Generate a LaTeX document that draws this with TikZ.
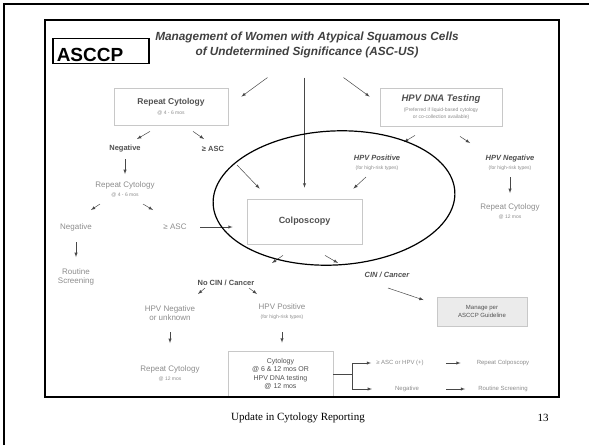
\documentclass[tikz,border=0pt]{standalone}
\usepackage{fontspec}
\setmainfont{Liberation Serif}
\setsansfont{Liberation Sans}

\definecolor{inkdark}{HTML}{505050}
\definecolor{inklight}{HTML}{8C8C8C}
\definecolor{boxline}{HTML}{C8C8C8}
\definecolor{arrowink}{HTML}{484848}
\definecolor{boxfill}{HTML}{EBEBEB}

\newcommand{\finetext}[1]{{\fontsize{5}{6}\selectfont\mdseries\upshape\color{inklight}#1}}

\begin{document}
\begin{tikzpicture}[x=1pt, y=-1pt,
			every node/.style={inner sep=1pt, align=center, font=\sffamily},
			lblbold/.style={font=\sffamily\bfseries\fontsize{7.5}{9}\selectfont, text=inkdark},
			lblital/.style={font=\sffamily\bfseries\itshape\fontsize{7.5}{9}\selectfont, text=inkdark},
			lblplain/.style={font=\sffamily\fontsize{8}{9}\selectfont, text=inklight},
			lblsmall/.style={font=\sffamily\fontsize{6}{7}\selectfont, text=inklight},
			flowbox/.style={draw=boxline, line width=0.8pt, inner sep=0pt},
			arr/.style={-latex, draw=arrowink, line width=0.5pt}]
\useasboundingbox (0,0) rectangle (589,445);
\draw[line width=2pt] (4,445) -- (4,4) -- (589,4);

\node (title) [font=\sffamily\bfseries\itshape\fontsize{11.8}{15}\selectfont, text=inkdark!80!black] at (307,44.5)
	{Management of Women with Atypical Squamous Cells\\of Undetermined Significance (ASC-US)};

\node (rep1) [flowbox, minimum width=114pt, minimum height=37pt,
	font=\sffamily\bfseries\fontsize{8.5}{10}\selectfont, text=inkdark] at (171,106.5)
	{Repeat Cytology\\\finetext{@ 4 - 6 mos}};
\node (hpv) [flowbox, minimum width=122pt, minimum height=38pt,
	font=\sffamily\bfseries\itshape\fontsize{9.5}{10}\selectfont, text=inkdark] at (441,107)
	{HPV DNA Testing\\\finetext{(Preferred if liquid-based cytology}\\[-3pt]\finetext{or co-collection available)}};

\node (neg1) [lblbold] at (125,149) {Negative};
\node (asc1) [lblbold] at (213,149) {≥ ASC};
\node (rep2) [lblplain] at (125,189) {Repeat Cytology\\\finetext{@ 4 - 6 mos}};
\node (neg2) [lblplain] at (76,227) {Negative};
\node (asc2) [lblplain] at (175,227) {≥ ASC};
\node (rout1) [lblplain] at (76,277) {Routine\\Screening};

\node (colpo) [flowbox, minimum width=115pt, minimum height=45pt,
	font=\sffamily\bfseries\fontsize{9}{11}\selectfont, text=inkdark] at (304.5,221.5) {Colposcopy};

\node (hpvpos) [lblital] at (377,163) {HPV Positive\\\finetext{(for high-risk types)}};
\node (hpvneg) [lblital] at (510,163) {HPV Negative\\\finetext{(for high-risk types)}};
\node (rep3) [lblplain] at (510,211) {Repeat Cytology\\\finetext{@ 12 mos}};

\node (nocin) [lblbold] at (226,283) {No CIN / Cancer};
\node (cin) [lblital] at (387,275) {CIN / Cancer};
\node (manage) [flowbox, fill=boxfill, minimum width=90pt, minimum height=29pt,
	font=\sffamily\fontsize{6}{8}\selectfont, text=inkdark] at (482,311.5) {Manage per\\ASCCP Guideline};

\node (hneg) [lblplain] at (170,313) {HPV Negative\\or unknown};
\node (hpos) [lblplain] at (282,312) {HPV Positive\\\finetext{(for high-risk types)}};
\node (rep4) [lblplain] at (170,373) {Repeat Cytology\\\finetext{@ 12 mos}};
\node (cyto) [flowbox, minimum width=105pt, minimum height=46pt,
	font=\sffamily\fontsize{7}{8.5}\selectfont, text=inkdark] at (280.5,374)
	{Cytology\\@ 6 \& 12 mos OR\\HPV DNA testing\\@ 12 mos};

\node (ascor) [lblsmall] at (400,363) {≥ ASC or HPV (+)};
\node (rcol) [lblsmall] at (503,363) {Repeat Colposcopy};
\node (neg3) [lblsmall] at (407,389) {Negative};
\node (rout2) [lblsmall] at (503,389) {Routine Screening};

% arrows of the algorithm
\draw[arr] ([shift={(39,-10)}]rep1.north east) -- ([shift={(13,9)}]rep1.north east);
\draw[arr] ([yshift=121pt]colpo.north) -- ([yshift=11pt]colpo.north);
\draw[arr] ([shift={(-36,-10)}]hpv.north west) -- ([shift={(-10,9)}]hpv.north west);
\draw[arr] ([shift={(-21,6)}]rep1.south) -- ([shift={(12,-10)}]neg1.center);
\draw[arr] ([shift={(22,6)}]rep1.south) -- ([shift={(-9,-10)}]asc1.center);
\draw[arr] ([shift={(24,16)}]asc1.center) -- ([shift={(13,-10)}]colpo.north west);
\draw[arr, shorten <=10pt, shorten >=15pt] (neg1.center) -- (rep2.center);
\draw[arr] ([shift={(-25,15)}]rep2.center) -- ([shift={(15,-17)}]neg2.center);
\draw[arr] ([shift={(18,15)}]rep2.center) -- ([shift={(-22,-17)}]asc2.center);
\draw[arr, shorten <=25pt, shorten >=14pt] (asc2.center) -- (asc2.center -| colpo.west);
\draw[arr, shorten <=15pt, shorten >=20pt] (neg2.center) -- (rout1.center);
\draw[arr] ([shift={(-26,9)}]hpv.south) -- ([shift={(27,-21)}]hpvpos.center);
\draw[arr] ([shift={(19,10)}]hpv.south) -- ([shift={(-40,-20)}]hpvneg.center);
\draw[arr] ([shift={(-11,14)}]hpvpos.center) -- ([shift={(-9,-10)}]colpo.north east);
\draw[arr, shorten <=14pt, shorten >=18pt] (hpvneg.center) -- (rep3.center);
\draw[arr] ([shift={(-21.5,11)}]colpo.south) -- ([shift={(46,-20)}]nocin.center);
\draw[arr] ([shift={(20.5,11)}]colpo.south) -- ([shift={(-49,-12)}]cin.center);
\draw[arr] ([shift={(1,13)}]cin.center) -- ([shift={(-13,-11.5)}]manage.west);
\draw[arr] ([shift={(-21,5)}]nocin.center) -- ([shift={(28,-19)}]hneg.center);
\draw[arr] ([shift={(23,5)}]nocin.center) -- ([shift={(-25,-18)}]hpos.center);
\draw[arr, shorten <=19pt, shorten >=30pt] (hneg.center) -- (rep4.center);
\draw[arr, shorten <=20pt, shorten >=8pt] (hpos.center) -- (hpos.center |- cyto.north);
\coordinate (fork) at ([xshift=19pt]cyto.east);
\draw[arrowink, line width=0.5pt] (cyto.east) -- (fork)
	(fork |- ascor) -- (fork |- neg3);
\draw[arr, shorten >=4pt] (fork |- ascor) -- (ascor.west);
\draw[arr, shorten >=22pt] (fork |- neg3) -- (neg3.west);
\draw[arr, shorten <=21pt, shorten >=15pt] (ascor.east) -- (rcol.west);
\draw[arr, shorten <=26pt, shorten >=12pt] (neg3.east) -- (rout2.west);

\draw[line width=1.5pt] (45,20) rectangle (559,397);
\node (asccp) [draw, line width=1.5pt, anchor=south west, text width=88pt, align=left,
	inner xsep=4pt, inner ysep=1pt, text height=22pt, text depth=1pt,
	font=\sffamily\bfseries\fontsize{19}{22}\selectfont] at (52,64) {ASCCP};
\draw[line width=1.2pt, rotate around={3:(334,198)}] (334,198) ellipse [x radius=121pt, y radius=67pt];

\node (foot) [font=\rmfamily\fontsize{11}{13}\selectfont] at (298,418) {Update in Cytology Reporting};
\node (page) [font=\rmfamily\fontsize{11}{13}\selectfont] at (543,418) {13};
\end{tikzpicture}
\end{document}
